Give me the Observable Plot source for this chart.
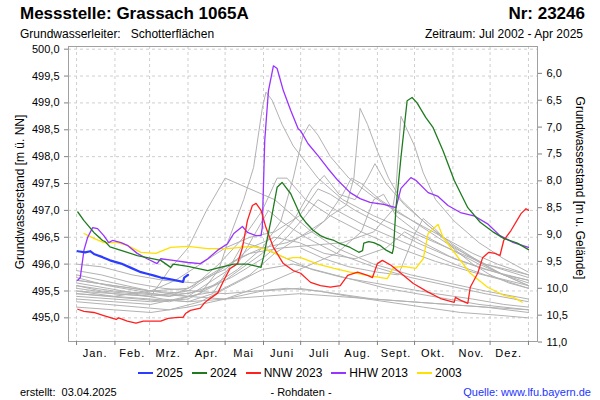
<!DOCTYPE html>
<html><head><meta charset="utf-8">
<script src="https://cdn.jsdelivr.net/npm/d3@7"></script>
<script src="https://cdn.jsdelivr.net/npm/@observablehq/plot@0.6"></script>
<style>
body{margin:0;background:#fff;font-family:"Liberation Sans",Arial,sans-serif;color:#000;}
#wrap{position:relative;width:600px;height:400px;overflow:hidden;}
.abs{position:absolute;white-space:pre;line-height:1;}
#chart{position:absolute;left:0;top:40px;}
g[aria-label="x-axis tick label"]{letter-spacing:1px;}
#legend{position:absolute;left:0;top:367px;width:600px;display:flex;justify-content:center;gap:9px;font-size:12px;line-height:1;}
#legend span.it{display:flex;align-items:center;gap:3px;}
</style></head><body><div id="wrap">
<div class="abs" style="left:20px;top:5px;font-size:17px;font-weight:bold">Messstelle: Grassach 1065A</div>
<div class="abs" style="right:15px;top:5px;font-size:17px;font-weight:bold">Nr: 23246</div>
<div class="abs" style="left:20px;top:28px;font-size:12px">Grundwasserleiter:   Schotterflächen</div>
<div class="abs" style="right:17px;top:28px;font-size:12px">Zeitraum: Jul 2002 - Apr 2025</div>
<div class="abs" style="left:20px;top:192px;font-size:12px;transform:translate(-50%,-50%) rotate(-90deg)">Grundwasserstand [m ü. NN]</div>
<div class="abs" style="left:580px;top:188px;font-size:12px;transform:translate(-50%,-50%) rotate(90deg)">Grundwasserstand [m u. Gelände]</div>
<div id="chart"></div>
<div id="legend"></div>
<div class="abs" style="left:20px;top:387px;font-size:11px">erstellt:  03.04.2025</div>
<div class="abs" style="left:301px;top:387px;font-size:11px;transform:translateX(-50%)">- Rohdaten -</div>
<div class="abs" style="right:9px;top:387px;font-size:11px;color:#2233ff">Quelle: www.lfu.bayern.de</div>
</div>
<script>
// ---- data: [day of year, groundwater level m ü. NN] ----
const s2025 = [[1,496.24],[7,496.22],[11,496.24],[14,496.19],[21,496.13],[27,496.07],[36,496.01],[44,495.93],[52,495.85],[57,495.82],[62,495.79],[68,495.75],[73,495.73],[80,495.70],[86,495.67],[87,495.75],[90,495.80]];
const s2024 = [[1,496.97],[6,496.81],[14,496.59],[21,496.44],[23,496.42],[27,496.32],[34,496.27],[41,496.22],[49,496.16],[57,496.12],[68,496.07],[76,495.94],[78,496.0],[90,495.96],[106,495.88],[116,495.94],[127,496.0],[138,496.0],[149,495.94],[151,496.13],[157,496.81],[162,497.43],[166,497.52],[173,497.31],[181,496.9],[185,496.78],[191,496.63],[197,496.53],[202,496.48],[208,496.44],[213,496.38],[221,496.31],[228,496.22],[231,496.25],[232,496.39],[236,496.42],[240,496.4],[245,496.35],[250,496.26],[255,496.2],[256,496.3],[258,497.05],[262,497.98],[267,499.04],[271,499.1],[275,499.0],[282,498.73],[288,498.54],[296,498.11],[305,497.56],[316,497.05],[326,496.78],[337,496.59],[345,496.48],[356,496.39],[365,496.27]];
const s2023 = [[1,495.16],[6,495.12],[14,495.1],[22,495.04],[32,494.97],[34,495.0],[41,494.94],[48,494.9],[54,494.94],[68,494.94],[74,494.99],[82,495.01],[86,495.01],[88,495.08],[92,495.14],[100,495.18],[103,495.27],[106,495.33],[114,495.46],[119,495.7],[124,495.92],[130,496.01],[134,496.31],[138,496.81],[142,497.09],[145,497.13],[149,497.0],[153,496.68],[159,496.31],[167,496.01],[175,495.88],[181,495.83],[189,495.66],[197,495.6],[205,495.57],[213,495.6],[219,495.79],[227,495.85],[235,495.79],[239,495.75],[243,496.01],[247,496.07],[254,495.98],[262,495.83],[272,495.64],[284,495.48],[294,495.36],[305,495.29],[306,495.38],[310,495.33],[316,495.27],[318,495.57],[324,495.83],[328,496.12],[333,496.22],[338,496.2],[342,496.16],[345,496.44],[351,496.63],[359,496.94],[363,497.03],[365,497.0]];
const s2013 = [[1,495.7],[3,495.75],[6,496.26],[9,496.5],[13,496.68],[17,496.66],[22,496.53],[26,496.4],[29,496.44],[36,496.4],[41,496.35],[49,496.2],[57,496.1],[65,496.01],[68,496.1],[78,496.07],[90,496.03],[100,496.01],[106,496.1],[114,496.26],[122,496.38],[127,496.57],[134,496.7],[138,496.59],[145,496.53],[149,496.53],[150,496.68],[152,498.3],[155,499.23],[159,499.69],[162,499.64],[167,499.23],[173,498.86],[179,498.52],[181,498.48],[187,498.24],[195,498.02],[203,497.78],[211,497.56],[221,497.33],[229,497.22],[237,497.15],[248,497.11],[258,497.05],[262,497.41],[270,497.61],[274,497.56],[284,497.33],[292,497.26],[300,497.09],[310,496.96],[321,496.9],[332,496.75],[342,496.53],[353,496.4],[365,496.31]];
const s2003 = [[6,496.57],[14,496.48],[22,496.4],[33,496.4],[41,496.35],[52,496.22],[64,496.2],[76,496.31],[90,496.33],[106,496.29],[122,496.29],[141,496.33],[151,496.29],[159,496.22],[170,496.1],[175,496.12],[181,496.12],[195,496.0],[208,495.92],[221,495.85],[235,495.79],[251,495.73],[256,495.94],[264,495.96],[274,495.92],[280,496.1],[284,496.57],[292,496.74],[296,496.5],[308,496.13],[318,495.83],[332,495.57],[345,495.42],[353,495.38],[360,495.29]];

const g2002 = [[181,496.3],[200,496.1],[220,495.95],[243,495.85],[260,495.8],[273,496.55],[280,496.85],[290,496.65],[304,496.3],[320,496.0],[334,495.8],[349,495.65],[365,495.55]];
const g2004 = [[0,495.6],[20,495.5],[45,495.45],[70,495.35],[90,495.3],[110,495.45],[125,496.0],[135,496.4],[150,496.3],[170,496.1],[190,495.9],[215,495.75],[240,495.65],[265,495.55],[290,495.45],[320,495.35],[345,495.25],[365,495.2]];
const g2005 = [[0,495.45],[25,495.4],[50,495.35],[75,495.3],[100,495.45],[115,495.9],[122,496.4],[135,497.2],[143,497.8],[150,498.9],[153,499.2],[158,499.05],[166,498.6],[175,498.2],[185,497.9],[195,497.6],[215,497.2],[240,496.9],[270,496.6],[300,496.3],[330,496.0],[365,495.8]];
const g2006 = [[0,495.7],[30,495.6],[60,495.5],[90,495.45],[110,495.6],[130,495.9],[150,496.3],[165,496.8],[175,497.6],[183,498.4],[188,498.6],[195,498.4],[205,498.0],[220,497.6],[240,497.25],[260,496.95],[280,496.7],[300,496.45],[320,496.2],[340,496.0],[365,495.8]];
const g2007 = [[0,495.5],[30,495.45],[60,495.4],[90,495.5],[110,495.8],[130,496.1],[150,496.3],[170,496.4],[190,496.6],[205,496.9],[218,497.1],[224,497.6],[229,498.9],[235,498.6],[243,498.1],[252,497.6],[262,497.2],[280,496.8],[300,496.4],[320,496.1],[340,495.85],[365,495.6]];
const g2008 = [[0,495.8],[30,495.65],[60,495.5],[90,495.55],[115,495.9],[140,496.2],[165,496.3],[190,496.35],[215,496.4],[240,496.6],[255,497.0],[258,497.4],[262,498.75],[267,498.5],[273,498.2],[280,497.7],[290,497.2],[305,496.8],[325,496.4],[345,496.1],[365,495.85]];
const g2009 = [[0,495.55],[30,495.45],[60,495.4],[75,495.9],[90,496.3],[105,497.0],[120,497.6],[130,497.5],[145,497.35],[160,497.2],[175,496.9],[190,496.6],[210,496.3],[240,496.0],[270,495.8],[300,495.65],[330,495.5],[365,495.35]];
const g2010 = [[0,495.4],[30,495.35],[60,495.3],[90,495.35],[120,495.7],[150,496.2],[175,496.8],[190,497.4],[200,497.65],[212,497.3],[225,497.2],[235,497.6],[241,497.87],[250,497.5],[265,497.1],[285,496.7],[305,496.35],[325,496.05],[345,495.8],[365,495.6]];
const g2011 = [[0,495.88],[20,495.8],[45,495.65],[70,495.55],[95,495.5],[120,495.45],[145,495.5],[170,495.55],[195,495.5],[220,495.4],[250,495.3],[280,495.2],[310,495.1],[340,495.05],[365,495.0]];
const g2012 = [[0,495.3],[25,495.25],[50,495.2],[75,495.15],[100,495.3],[125,495.6],[150,495.9],[175,496.0],[200,495.85],[225,495.7],[250,495.55],[275,495.45],[300,495.35],[325,495.25],[345,495.2],[365,495.15]];
const g2014 = [[0,495.75],[25,495.6],[50,495.5],[75,495.4],[100,495.5],[125,495.75],[150,496.1],[170,496.5],[185,496.9],[195,497.2],[210,497.0],[230,496.75],[255,496.5],[280,496.25],[305,496.0],[330,495.8],[365,495.6]];
const g2015 = [[0,495.65],[25,495.55],[50,495.45],[75,495.4],[95,495.6],[115,496.0],[135,496.5],[150,497.0],[162,497.6],[170,497.6],[185,497.2],[205,496.9],[230,496.6],[260,496.3],[290,496.05],[320,495.85],[345,495.7],[365,495.55]];
const g2016 = [[0,495.5],[30,495.4],[60,495.35],[90,495.3],[120,495.35],[150,495.6],[180,495.9],[210,496.2],[230,496.6],[240,497.2],[248,497.3],[258,496.9],[275,496.6],[300,496.3],[325,496.0],[345,495.8],[365,495.65]];
const g2017 = [[0,495.2],[30,495.15],[60,495.1],[90,495.2],[120,495.35],[150,495.5],[180,495.55],[210,495.45],[240,495.35],[270,495.3],[300,495.25],[330,495.2],[365,495.1]];
const g2018 = [[0,496.0],[20,495.95],[45,495.8],[70,495.7],[95,495.65],[120,495.9],[140,496.3],[160,496.5],[180,496.4],[200,496.2],[225,496.1],[250,496.3],[265,496.6],[280,496.4],[305,496.1],[330,495.9],[365,495.7]];
const g2019 = [[0,495.35],[30,495.3],[60,495.25],[90,495.4],[110,495.7],[130,496.0],[145,496.6],[155,497.0],[165,496.8],[185,496.5],[210,496.2],[240,495.95],[270,495.75],[300,495.6],[330,495.45],[365,495.3]];
const g2020 = [[0,495.45],[30,495.4],[60,495.5],[80,495.7],[100,496.0],[120,496.3],[140,496.5],[160,496.6],[180,496.9],[195,497.4],[205,497.3],[225,497.0],[250,496.7],[275,496.4],[300,496.15],[325,495.95],[345,495.8],[365,495.7]];
const g2021 = [[0,495.6],[30,495.5],[60,495.45],[90,495.4],[115,495.5],[140,495.8],[160,496.2],[180,496.5],[200,496.8],[215,497.3],[222,497.6],[230,497.5],[245,497.2],[265,496.9],[285,496.6],[305,496.3],[330,496.0],[365,495.75]];
const g2022 = [[0,495.7],[30,495.6],[60,495.5],[90,495.4],[120,495.35],[150,495.4],[180,495.45],[210,495.4],[240,495.35],[270,495.3],[300,495.25],[330,495.2],[365,495.15]];

const monthStarts = [0,31,59,90,120,151,181,212,243,273,304,334,365];
const monthMids = [15,45,74,105,135,166,196,227,258,288,319,349];
const monthLabels = ["Jan.","Feb.","Mrz.","Apr.","Mai","Juni","Juli","Aug.","Sept.","Okt.","Nov.","Dez."];
const levelTicks = [495.0,495.5,496.0,496.5,497.0,497.5,498.0,498.5,499.0,499.5,500.0];
const depthTicks = [6.0,6.5,7.0,7.5,8.0,8.5,9.0,9.5,10.0,10.5,11.0];
const groundLevel = 505.55;

// ---- build ----
const grayList = [["2002",g2002],["2004",g2004],["2005",g2005],["2006",g2006],["2007",g2007],["2008",g2008],["2009",g2009],["2010",g2010],["2011",g2011],["2012",g2012],["2014",g2014],["2015",g2015],["2016",g2016],["2017",g2017],["2018",g2018],["2019",g2019],["2020",g2020],["2021",g2021],["2022",g2022]];
const grayRows = grayList.flatMap(([yr, arr]) => arr.map(([d, v]) => ({yr, d, v})));
const rows = arr => arr.map(([d, v]) => ({d, v}));
const fmt = v => v.toFixed(1).replace(".", ",");
const labelAt = new Map(monthMids.map((d, i) => [d, monthLabels[i]]));

const hl = [
  {name:"2003", data:s2003, color:"#ffe000", w:1.3},
  {name:"HHW 2013", data:s2013, color:"#9933ff", w:1.3},
  {name:"NNW 2023", data:s2023, color:"#ff2020", w:1.3},
  {name:"2024", data:s2024, color:"#1e7b1e", w:1.3},
  {name:"2025", data:s2025, color:"#2a3cff", w:2.2}
];

const chart = Plot.plot({
  width: 600, height: 323,
  marginTop: 6, marginBottom: 22, marginLeft: 68, marginRight: 63,
  style: {fontFamily: '"Liberation Sans", Arial, sans-serif', fontSize: "11px", background: "transparent", color: "#000"},
  x: {domain: [-6.5, 372.3]},
  y: {domain: [494.56, 500.05]},
  marks: [
    Plot.gridY(levelTicks, {stroke: "#cfcfcf", strokeOpacity: 1, strokeDasharray: "3,3"}),
    Plot.gridX(monthStarts, {stroke: "#cfcfcf", strokeOpacity: 1, strokeDasharray: "3,3"}),
    Plot.line(grayRows, {x: "d", y: "v", z: "yr", stroke: "#b2b2b2", strokeWidth: 1}),
    ...hl.map(s => Plot.line(rows(s.data), {x: "d", y: "v", stroke: s.color, strokeWidth: s.w})),
    Plot.frame({stroke: "#a0a0a0"}),
    Plot.axisY(levelTicks, {anchor: "left", tickSize: 4, tickPadding: 5, tickFormat: fmt, label: null, stroke: "#808080"}),
    Plot.axisY(depthTicks.map(d => groundLevel - d), {anchor: "right", tickSize: 4, tickPadding: 5, tickFormat: v => fmt(groundLevel - v), label: null, stroke: "#808080"}),
    Plot.axisX(monthStarts, {anchor: "bottom", tickSize: 4, tickFormat: () => "", label: null, stroke: "#808080"}),
    Plot.axisX(monthMids, {anchor: "bottom", tickSize: 0, tickPadding: 8, tickFormat: d => labelAt.get(d), label: null})
  ]
});
document.getElementById("chart").appendChild(chart);

const legendOrder = ["2025","2024","NNW 2023","HHW 2013","2003"];
const leg = document.getElementById("legend");
legendOrder.forEach(n => {
  const s = hl.find(h => h.name === n);
  const it = document.createElement("span");
  it.className = "it";
  it.innerHTML = `<svg width="15" height="4"><line x1="0" x2="15" y1="2" y2="2" stroke="${s.color}" stroke-width="2"/></svg><span>${n}</span>`;
  leg.appendChild(it);
});
</script>
</body></html>
